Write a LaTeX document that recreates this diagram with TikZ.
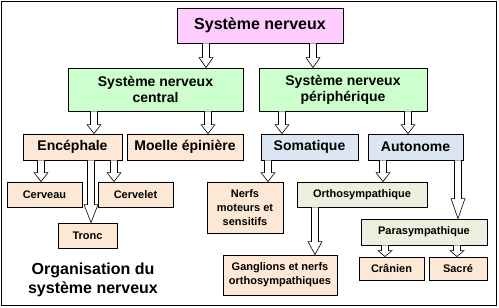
\documentclass[tikz,border=0pt]{standalone}
\usepackage{fontspec}
\setmainfont{Liberation Sans}
\usetikzlibrary{calc}
\definecolor{pinkbox}{RGB}{255,204,255}
\definecolor{greenbox}{RGB}{204,255,204}
\definecolor{peachbox}{RGB}{252,232,212}
\definecolor{bluebox}{RGB}{220,230,242}
\definecolor{paleg}{RGB}{235,241,222}
\newcommand\blkarrow[4]{%
  \draw[blk] let \p1=(#1,0 |- #2.south), \p2=(#1,0 |- #3.north) in
    (\x1-3.5pt,\y1) -- (\x1-3.5pt,\y2+#4pt) -- (\x1-7pt,\y2+#4pt) -- (\x1,\y2)
    -- (\x1+7pt,\y2+#4pt) -- (\x1+3.5pt,\y2+#4pt) -- (\x1+3.5pt,\y1);}
\begin{document}
\begin{tikzpicture}[x=1pt,y=-1pt,
  box/.style={draw=black,line width=0.9pt,inner sep=0pt,align=center,font=\bfseries},
  big/.style={box,font=\fontsize{16}{19}\selectfont\bfseries},
  mid/.style={box,font=\fontsize{14}{16}\selectfont\bfseries},
  sml/.style={box,font=\fontsize{11}{14}\selectfont\bfseries},
  blk/.style={draw=black,fill=white,line width=0.6pt,line join=miter}]
\useasboundingbox (0,0) rectangle (499,308);
\draw[line width=1.2pt] (1.5,1.5) rectangle (496.5,305.5);
% boxes
\node[big,fill=pinkbox,minimum width=166pt,minimum height=35pt] (top) at (260,25.5) {Système nerveux};
\node[mid,fill=greenbox,minimum width=175pt,minimum height=43pt] (snc) at (155.5,89.5) {Système nerveux\\central};
\node[mid,fill=greenbox,minimum width=168pt,minimum height=43pt] (snp) at (343,89.5) {Système nerveux\\périphérique};
\node[mid,fill=peachbox,minimum width=99pt,minimum height=26pt] (enc) at (72.5,147) {Encéphale};
\node[mid,fill=peachbox,minimum width=116pt,minimum height=26pt] (moe) at (185,147) {Moelle épinière};
\node[mid,fill=bluebox,minimum width=97pt,minimum height=26pt] (som) at (309.5,147) {Somatique};
\node[mid,fill=bluebox,minimum width=95pt,minimum height=26pt] (aut) at (415.5,147) {Autonome};
\node[sml,fill=peachbox,minimum width=75pt,minimum height=25pt] (cer) at (44.5,194.5) {Cerveau};
\node[sml,fill=peachbox,minimum width=75pt,minimum height=25pt] (cvl) at (135.5,194.5) {Cervelet};
\node[sml,fill=peachbox,minimum width=59pt,minimum height=25pt] (tro) at (87.5,235.5) {Tronc};
\node[sml,fill=peachbox,minimum width=76pt,minimum height=51pt] (nrf) at (245,207.5) {Nerfs\\moteurs et\\sensitifs};
\node[sml,fill=paleg,minimum width=130pt,minimum height=25pt] (ort) at (362,194.5) {Orthosympathique};
\node[sml,fill=paleg,minimum width=126pt,minimum height=26pt] (par) at (424,232) {Parasympathique};
\node[sml,fill=peachbox,minimum width=114pt,minimum height=40pt] (gan) at (280,275) {Ganglions et nerfs\\orthosympathiques};
\node[sml,fill=peachbox,minimum width=65pt,minimum height=23pt] (cra) at (391.5,268.5) {Crânien};
\node[sml,fill=peachbox,minimum width=58pt,minimum height=23pt] (sac) at (458,268.5) {Sacré};
\node[align=center,inner sep=0pt,font=\fontsize{16}{19}\selectfont\bfseries] (title) at (93,279.5) {Organisation du\\système nerveux};
% arrows
\blkarrow{206}{top}{snc}{10}
\blkarrow{313}{top}{snp}{10}
\blkarrow{94}{snc}{enc}{9}
\blkarrow{208}{snc}{moe}{9}
\blkarrow{282}{snp}{som}{9}
\blkarrow{408}{snp}{aut}{9}
\blkarrow{41}{enc}{cer}{9}
\blkarrow{91}{enc}{tro}{18}
\blkarrow{114}{enc}{cvl}{9}
\blkarrow{268}{som}{nrf}{9}
\blkarrow{383}{aut}{ort}{9}
\blkarrow{458}{aut}{par}{20}
\blkarrow{315}{ort}{gan}{13}
\blkarrow{385}{par}{cra}{6}
\blkarrow{457}{par}{sac}{6}
\end{tikzpicture}
\end{document}
